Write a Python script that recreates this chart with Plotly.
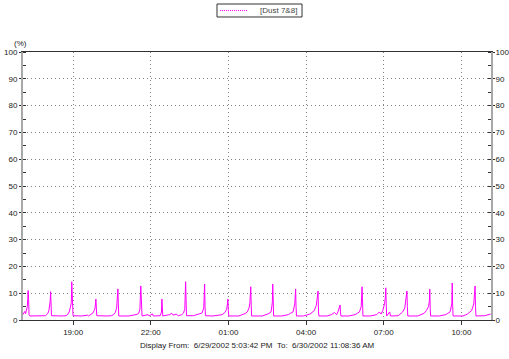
import pandas as pd
import plotly.graph_objects as go

# ---- data (minutes after display start, dust %) ----
start_time = "2002-06-29 17:03:42"
end_time = "2002-06-30 11:08:36"

minutes = [
    0, 2, 4, 6, 8, 10, 11, 12, 13, 14, 16,
    40, 52,
    55, 58, 60, 62, 63, 64, 65, 66,
    90, 100,
    104, 107, 110, 112, 113, 114, 115, 116,
    135, 150, 152,
    158, 162, 165, 167, 169, 170, 171,
    195, 205,
    210, 214, 217, 219, 220, 221, 222,
    245, 255,
    262, 268, 271, 273, 274, 275, 276,
    290, 292, 300, 302,
    318, 321, 322, 323, 324,
    340, 345, 348, 355, 360,
    368, 372, 375, 377, 378, 379,
    395, 405,
    410, 415, 419, 421, 422, 423,
    440, 455,
    462, 468, 472, 474, 475, 476, 477,
    500, 510,
    515, 520, 524, 526, 528, 529, 530,
    555, 565,
    570, 575, 578, 579, 580, 581,
    600, 615,
    620, 626, 630, 632, 633, 634,
    650, 665,
    670, 675, 680, 683, 684, 685, 686,
    705, 715,
    722, 727, 730, 733, 735, 736, 737,
    755, 770,
    775, 780, 784, 786, 787, 788,
    805, 820,
    826, 830, 834, 838, 840, 841, 842, 843,
    850, 852, 870,
    876, 880, 885, 888, 890, 891, 892,
    915, 925,
    930, 935, 940, 942, 943, 944, 945,
    965, 980,
    985, 990, 994, 995, 996, 997,
    1020, 1030,
    1036, 1040, 1045, 1048, 1049, 1050,
    1070, 1078, 1084,
]

dust = [
    2.0, 2.6, 3.2, 2.4, 3.5, 5.0, 8.0, 11.0, 7.6, 2.0, 1.5,
    1.5, 1.6,
    2.0, 2.6, 3.5, 5.5, 7.0, 10.6, 6.5, 1.6,
    1.5, 1.6,
    2.2, 3.0, 4.8, 6.5, 14.3, 10.0, 3.0, 1.6,
    1.5, 1.8, 1.5,
    2.0, 2.6, 3.5, 4.5, 7.8, 5.0, 1.6,
    1.5, 1.6,
    2.0, 2.8, 4.5, 8.5, 11.6, 6.0, 1.5,
    1.5, 1.7,
    2.0, 2.4, 4.0, 12.7, 7.0, 5.0, 1.5,
    2.0, 1.5, 2.3, 1.5,
    1.6, 3.0, 7.8, 2.0, 1.5,
    2.0, 2.5, 1.8, 2.2, 1.6,
    2.0, 2.6, 4.0, 14.3, 8.5, 1.6,
    1.6, 2.0,
    2.3, 2.6, 4.5, 13.4, 5.0, 1.6,
    1.5, 1.8,
    2.0, 2.8, 4.0, 6.0, 7.8, 3.5, 1.5,
    1.5, 2.0,
    2.4, 3.0, 4.5, 6.5, 12.4, 5.5, 1.5,
    1.5, 2.0,
    2.4, 3.0, 6.5, 13.4, 4.0, 1.5,
    1.5, 2.0,
    2.5, 3.0, 6.0, 11.6, 5.0, 1.5,
    1.5, 2.2,
    2.8, 3.5, 5.5, 8.5, 10.8, 3.0, 1.5,
    1.5, 2.0,
    2.8, 2.0, 3.0, 4.5, 5.6, 3.0, 1.5,
    1.5, 2.0,
    2.5, 3.0, 5.0, 12.4, 8.0, 1.5,
    1.5, 2.0,
    3.0, 2.2, 3.5, 6.0, 8.5, 12.0, 6.0, 1.5,
    3.0, 1.5, 1.6,
    2.5, 3.0, 4.5, 7.5, 10.8, 5.0, 1.5,
    1.5, 2.0,
    2.5, 3.5, 5.0, 7.0, 11.5, 4.0, 1.5,
    1.5, 2.0,
    2.5, 3.0, 6.0, 13.8, 5.5, 1.5,
    1.5, 2.2,
    3.0, 3.5, 6.0, 12.7, 5.0, 1.5,
    1.6, 2.0, 2.2,
]

series_name = "[Dust 7&8]"
x_tick_times = ["2002-06-29 19:00", "2002-06-29 22:00", "2002-06-30 01:00",
                "2002-06-30 04:00", "2002-06-30 07:00", "2002-06-30 10:00"]
x_tick_labels = ["19:00", "22:00", "01:00", "04:00", "07:00", "10:00"]
y_ticks = [0, 10, 20, 30, 40, 50, 60, 70, 80, 90, 100]
footer = ("Display From:\u00a0\u00a06/29/2002 5:03:42 PM\u00a0\u00a0To:\u00a0\u00a0"
          "6/30/2002 11:08:36 AM")

times = pd.Timestamp(start_time) + pd.to_timedelta(minutes, unit="m")

FONT = "Liberation Sans, Arial, sans-serif"
TXT = "#222222"
MAG = "#FF00FF"
GRID = "#808080"

fig = go.Figure()
fig.add_trace(go.Scatter(x=times, y=dust, mode="lines", name=series_name,
                         showlegend=False, line=dict(color=MAG, width=1)))
fig.add_trace(go.Scatter(x=times, y=dust, mode="lines", yaxis="y2",
                         showlegend=False, hoverinfo="skip",
                         line=dict(color="rgba(0,0,0,0)", width=0)))

# legend box drawn to match the original compact legend
fig.add_shape(type="rect", xref="paper", yref="paper",
              x0=0.4145, x1=0.5962, y0=1.1306, y1=1.1791,
              line=dict(color="#333333", width=1), fillcolor="white")
fig.add_shape(type="line", xref="paper", yref="paper",
              x0=0.4209, x1=0.4786, y0=1.1549, y1=1.1549,
              line=dict(color=MAG, width=1, dash="1px,1px"))

fig.update_layout(
    width=509, height=359,
    margin=dict(l=23, r=18, t=52, b=39),
    paper_bgcolor="white", plot_bgcolor="white",
    font=dict(family=FONT, size=8, color=TXT),
    showlegend=False,
    xaxis=dict(
        type="date", automargin=False,
        range=[pd.Timestamp(start_time), pd.Timestamp(end_time)],
        tickmode="array", tickvals=x_tick_times, ticktext=x_tick_labels,
        showgrid=True, gridcolor=GRID, griddash="1px,3px", gridwidth=1,
        showline=True, linecolor="#333333", linewidth=1, mirror=True,
        ticks="outside", ticklen=4, tickcolor="#333333",
        zeroline=False, tickfont=dict(size=8, color=TXT),
    ),
    yaxis=dict(
        range=[0, 100], tickmode="array", tickvals=y_ticks, automargin=False,
        showgrid=True, gridcolor=GRID, griddash="1px,3px", gridwidth=1,
        showline=True, linecolor="#A8A8A8", linewidth=2,
        ticks="outside", ticklen=2, tickcolor="#333333",
        ticklabelstandoff=0,
        minor=dict(dtick=5, ticks="inside", ticklen=3, tickcolor="#333333",
                   showgrid=False),
        zeroline=False, tickfont=dict(size=8, color=TXT),
    ),
    yaxis2=dict(
        range=[0, 100], tickmode="array", tickvals=y_ticks, automargin=False,
        overlaying="y", side="right", showgrid=False,
        showline=True, linecolor="#A8A8A8", linewidth=2,
        ticks="outside", ticklen=2, tickcolor="#333333",
        ticklabelstandoff=-1,
        minor=dict(dtick=5, ticks="inside", ticklen=3, tickcolor="#333333"),
        zeroline=False, tickfont=dict(size=8, color=TXT),
    ),
    annotations=[
        dict(text=series_name, xref="paper", yref="paper", x=0.5897, y=1.1549,
             xanchor="right", yanchor="middle", showarrow=False,
             font=dict(size=8, color="#444444")),
        dict(text="(%)", xref="paper", yref="paper", x=-0.006, y=1.03,
             xanchor="center", yanchor="middle", showarrow=False,
             font=dict(size=8, color=TXT)),
        dict(text=footer, xref="paper", yref="paper", x=0.5, y=-0.097,
             xanchor="center", yanchor="middle", showarrow=False,
             font=dict(size=8, color=TXT)),
    ],
)

fig.write_html("out.html")
